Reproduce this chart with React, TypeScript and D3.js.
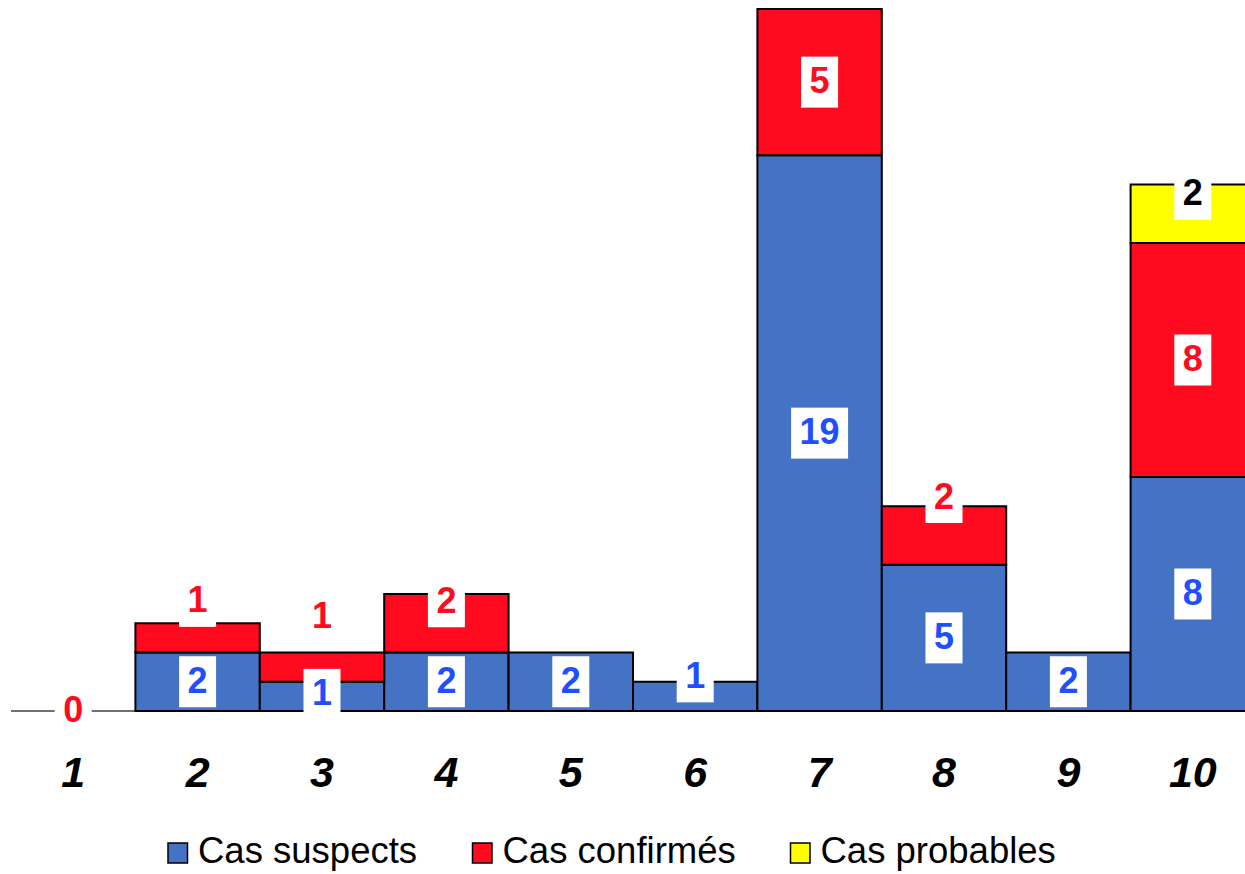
import React from "react";
import * as d3 from "d3";

const categories = ["1", "2", "3", "4", "5", "6", "7", "8", "9", "10"];
const suspects = [0, 2, 1, 2, 2, 1, 19, 5, 2, 8];
const confirmed = [0, 1, 1, 2, 0, 0, 5, 2, 0, 8];
const probables = [0, 0, 0, 0, 0, 0, 0, 0, 0, 2];
const seriesNames = ["Cas suspects", "Cas confirmés", "Cas probables"];

const W = 1245;
const H = 874;
const fills = ["#4472C4", "#FF0A1E", "#FFFF00"];
const labelColors = ["#1F4FFF", "#FF0A1E", "#000000"];
// manual label nudges in px (style, not data): key = seriesIndex-categoryIndex
const nudge: Record<string, number> = {
  "1-1": -36.5,
  "1-2": -50.5,
  "1-3": -21.5,
  "0-5": -19.5,
  "1-7": -38,
  "2-9": -19.5,
  "0-2": -2,
};

export default function App() {
  const x = d3.scaleBand<string>().domain(categories).range([11, 1255]).padding(0);
  const y = d3.scaleLinear().domain([0, 24]).range([711, 9]);

  const rows = categories.map((c, i) => ({
    cat: c,
    s0: suspects[i],
    s1: confirmed[i],
    s2: probables[i],
  }));
  const stack = d3.stack<any>().keys(["s0", "s1", "s2"]);
  const stacked = stack(rows);

  const bars: React.ReactNode[] = [];
  const labels: React.ReactNode[] = [];
  stacked.forEach((layer, si) => {
    layer.forEach((seg, ci) => {
      const v = seg[1] - seg[0];
      const cat = categories[ci];
      const x0 = x(cat)!;
      const bw = x.bandwidth();
      if (v > 0) {
        bars.push(
          <rect
            key={`b-${si}-${ci}`}
            x={x0}
            y={y(seg[1])}
            width={bw}
            height={y(seg[0]) - y(seg[1])}
            fill={fills[si]}
            stroke="#000"
            strokeWidth={2}
          />
        );
      }
      const showZero = v === 0 && si === 1 && ci === 0;
      if (v > 0 || showZero) {
        const txt = String(v);
        const cy = (y(seg[0]) + y(seg[1])) / 2 + (nudge[`${si}-${ci}`] || 0);
        const cx = x0 + bw / 2;
        const tw = txt.length * 20;
        const boxW = tw + 17;
        labels.push(
          <g key={`l-${si}-${ci}`}>
            <rect x={cx - boxW / 2} y={cy - 25.5} width={boxW} height={51} fill="#fff" />
            <text
              x={cx}
              y={cy + 11}
              textAnchor="middle"
              fontFamily="'Liberation Sans', Arial, sans-serif"
              fontWeight="bold"
              fontSize={36}
              fill={labelColors[si]}
            >
              {txt}
            </text>
          </g>
        );
      }
    });
  });

  const legendX = [168, 472.5, 790.5];

  return (
    <svg
      width={W}
      height={H}
      style={{ position: "absolute", left: 0, top: 0, background: "#fff" }}
    >
      <rect x={0} y={0} width={W} height={H} fill="#fff" />
      <line x1={11} x2={1255} y1={y(0)} y2={y(0)} stroke="#404040" strokeWidth={1.3} />
      {bars}
      {labels}
      {categories.map((c) => (
        <text
          key={`t-${c}`}
          x={x(c)! + x.bandwidth() / 2}
          y={787}
          textAnchor="middle"
          fontFamily="'Liberation Sans', Arial, sans-serif"
          fontWeight="bold"
          fontStyle="italic"
          fontSize={43}
          fill="#000"
        >
          {c}
        </text>
      ))}
      {seriesNames.map((n, i) => (
        <g key={`lg-${i}`}>
          <rect
            x={legendX[i]}
            y={843}
            width={19.5}
            height={20}
            fill={fills[i]}
            stroke="#000"
            strokeWidth={1.5}
          />
          <text
            x={legendX[i] + 30}
            y={863}
            fontFamily="'Liberation Sans', Arial, sans-serif"
            fontSize={36.5}
            fill="#000"
          >
            {n}
          </text>
        </g>
      ))}
    </svg>
  );
}
